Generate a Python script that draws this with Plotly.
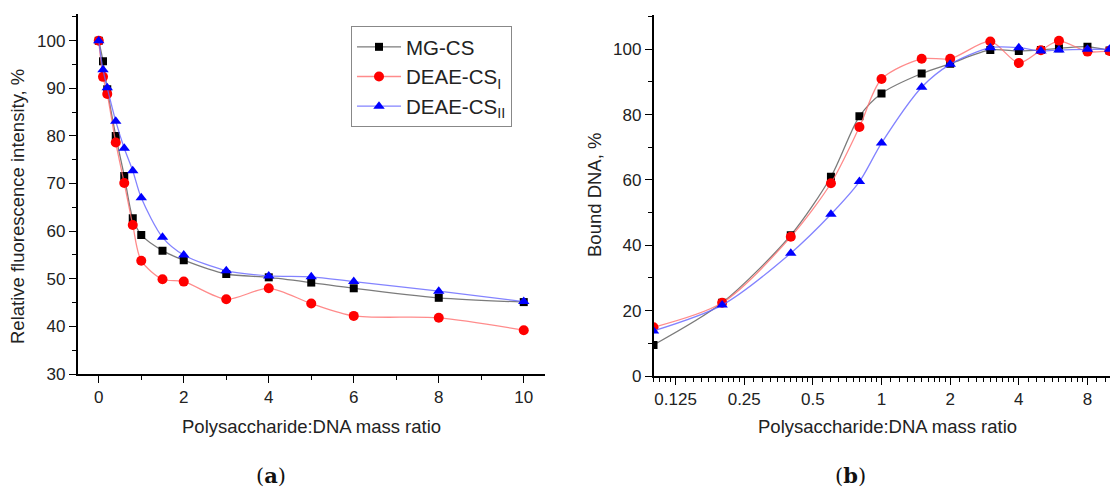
import plotly.graph_objects as go

# ---------------- data: panel (a) ----------------
ratio_a = [0, 0.1, 0.2, 0.4, 0.6, 0.8, 1, 1.5, 2, 3, 4, 5, 6, 8, 10]
mg_cs_a = [100, 95.7, 89.8, 80.0, 71.6, 62.7, 59.2, 55.9, 53.9, 51.0, 50.3, 49.2, 48.0, 46.0, 45.1]
deae_i_a = [100, 92.4, 88.8, 78.6, 70.1, 61.3, 53.8, 49.9, 49.4, 45.7, 48.0, 44.8, 42.2, 41.8, 39.2]
deae_ii_a = [100, 93.9, 90.1, 83.1, 77.4, 72.7, 67.0, 58.7, 55.0, 51.7, 50.6, 50.4, 49.4, 47.4, 45.2]

# ---------------- data: panel (b) ----------------
ratio_b = [0.1, 0.2, 0.4, 0.6, 0.8, 1, 1.5, 2, 3, 4, 5, 6, 8, 10]
mg_cs_b = [9.5, 22.4, 43.1, 61.0, 79.5, 86.5, 92.6, 95.6, 99.8, 99.5, 99.8, 100.3, 100.8, 99.6]
deae_i_b = [14.9, 22.4, 42.6, 59.0, 76.2, 90.9, 97.1, 97.1, 102.4, 95.8, 99.7, 102.6, 99.3, 99.5]
deae_ii_b = [13.8, 21.7, 37.6, 49.5, 59.5, 71.3, 88.4, 95.4, 100.5, 100.5, 99.5, 99.8, 100.0, 100.0]

names = ["MG-CS", "DEAE-CS<sub>I</sub>", "DEAE-CS<sub>II</sub>"]
ticks_a_x = [0, 2, 4, 6, 8, 10]
ticks_b_x = [0.125, 0.25, 0.5, 1, 2, 4, 8]
ticks_b_xtext = ["0.125", "0.25", "0.5", "1", "2", "4", "8"]

W, H = 1110, 490
FONT = "Liberation Sans, Arial, sans-serif"

marker_colors = ["#000000", "#ff0000", "#0000ff"]
line_colors = ["rgba(90,90,90,0.8)", "rgba(255,110,110,0.8)", "rgba(100,100,255,0.8)"]
symbols = ["square", "circle", "triangle-up"]
sizes = [8, 10, 10]

fig = go.Figure()

for i, ys in enumerate([mg_cs_a, deae_i_a, deae_ii_a]):
    fig.add_trace(go.Scatter(
        x=ratio_a, y=ys, name=names[i], mode="lines+markers",
        line=dict(color=line_colors[i], width=1.3, shape="spline", smoothing=0.8),
        marker=dict(symbol=symbols[i], size=sizes[i], color=marker_colors[i]),
        xaxis="x", yaxis="y", showlegend=True))

for i, ys in enumerate([mg_cs_b, deae_i_b, deae_ii_b]):
    fig.add_trace(go.Scatter(
        x=ratio_b, y=ys, name=names[i], mode="lines+markers",
        line=dict(color=line_colors[i], width=1.3, shape="spline", smoothing=0.8),
        marker=dict(symbol=symbols[i], size=sizes[i], color=marker_colors[i]),
        xaxis="x2", yaxis="y2", showlegend=False))

# minor ticks for log2-style axis: linear subdivisions within each octave
minor_b = []
for n in range(-4, 4):
    base = 2.0 ** n
    for k in range(1, 10):
        v = base * (1 + k / 10)
        if 0.1 <= v <= 10:
            minor_b.append(v)


def px_x(p):
    return p / W


def px_y(p):
    return (H - p) / H


axis_common = dict(
    showline=True, linecolor="black", linewidth=1.5, mirror=False,
    showgrid=False, zeroline=False, ticks="outside", ticklen=7, tickwidth=1.3,
    tickcolor="black", tickfont=dict(family=FONT, size=17, color="#222"),
    automargin=False,
)

fig.update_layout(
    width=W, height=H,
    margin=dict(l=0, r=0, t=0, b=0),
    paper_bgcolor="white", plot_bgcolor="white",
    font=dict(family=FONT, color="#222"),
    xaxis=dict(domain=[px_x(77.5), px_x(545)], range=[-0.5, 10.5],
               tickvals=ticks_a_x, anchor="y",
               minor=dict(dtick=1, tick0=0, ticks="outside", ticklen=4, tickcolor="black"),
               **axis_common),
    yaxis=dict(domain=[px_y(374), px_y(14)], range=[30, 105.6], dtick=10, anchor="x",
               minor=dict(dtick=5, tick0=0, ticks="outside", ticklen=4, tickcolor="black"),
               **axis_common),
    xaxis2=dict(domain=[px_x(653.5), 1.0], type="log", range=[-1, 1.002],
                tickvals=ticks_b_x, ticktext=ticks_b_xtext, anchor="y2",
                minor=dict(tickvals=minor_b, ticks="outside", ticklen=4, tickcolor="black"),
                **axis_common),
    yaxis2=dict(domain=[px_y(376), px_y(15)], range=[0, 110.5], tickvals=[0, 20, 40, 60, 80, 100],
                anchor="x2",
                minor=dict(dtick=10, tick0=0, ticks="outside", ticklen=4, tickcolor="black"),
                **axis_common),
    legend=dict(x=px_x(351), y=px_y(26), xanchor="left", yanchor="top",
                bordercolor="#888", borderwidth=1, bgcolor="white",
                font=dict(family=FONT, size=20.5, color="#222"),
                tracegroupgap=0, itemwidth=44),
)

annots = [
    dict(text="Relative fluorescence intensity, %", x=px_x(18), y=px_y(207), textangle=-90,
         font=dict(family=FONT, size=18.5, color="#222")),
    dict(text="Bound DNA, %", x=px_x(594), y=px_y(195), textangle=-90,
         font=dict(family=FONT, size=18.5, color="#222")),
    dict(text="Polysaccharide:DNA mass ratio", x=px_x(311), y=px_y(426),
         font=dict(family=FONT, size=18.5, color="#222")),
    dict(text="Polysaccharide:DNA mass ratio", x=px_x(887), y=px_y(426),
         font=dict(family=FONT, size=18.5, color="#222")),
    dict(text="(<b>a</b>)", x=px_x(271), y=px_y(475),
         font=dict(family="DejaVu Serif, Liberation Serif, serif", size=21, color="#111")),
    dict(text="(<b>b</b>)", x=px_x(850), y=px_y(475),
         font=dict(family="DejaVu Serif, Liberation Serif, serif", size=21, color="#111")),
]
for a in annots:
    fig.add_annotation(xref="paper", yref="paper", showarrow=False,
                       xanchor="center", yanchor="middle", **a)

fig.write_html("out.html",
               config={"displayModeBar": False},
               post_script="document.body.style.margin='0px';document.body.style.overflow='hidden';")
